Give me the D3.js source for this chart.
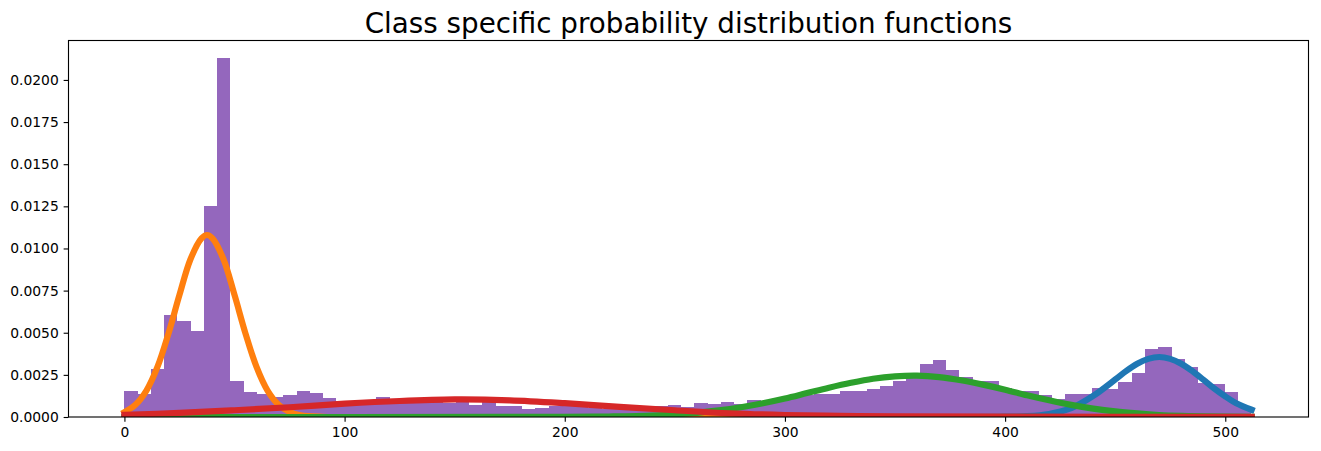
<!DOCTYPE html>
<html>
<head>
<meta charset="utf-8">
<script src="https://cdn.jsdelivr.net/npm/d3@7/dist/d3.min.js"></script>
<style>
html,body{margin:0;padding:0;background:#fff;}
svg{display:block;}
text{font-family:"DejaVu Sans",sans-serif;fill:#000;}
</style>
</head>
<body>
<svg id="chart" width="1321" height="451"></svg>
<script>
const chartTitle = "Class specific probability distribution functions";
const binWidth = 6.02;
const histValues = [
 0.00154,0.00136,0.00285,0.00605,0.0057,0.0051,0.0125,0.0213,0.00214,0.00148,
 0.00136,0.00119,0.0013,0.00154,0.00142,0.00113,0.00095,0.00095,0.001,0.00119,
 0.00107,0.00095,0.00095,0.00095,0.00081,0.00087,0.00073,0.00087,0.00067,0.00067,
 0.00049,0.00055,0.00067,0.00067,0.0006,0.00055,0.0005,0.0005,0.00052,0.00055,
 0.00067,0.00073,0.00061,0.00085,0.00079,0.00091,0.00079,0.00103,0.00095,0.00105,
 0.00115,0.0013,0.00138,0.00138,0.00156,0.00156,0.00168,0.00186,0.00216,0.00245,
 0.00316,0.0034,0.00281,0.00237,0.00214,0.00216,0.00174,0.00156,0.00156,0.00133,
 0.00109,0.00138,0.00138,0.00174,0.00168,0.0021,0.00263,0.00405,0.00417,0.00346,
 0.00298,0.00204,0.00198,0.0015,0.0006
];
const blueX = [0,380,400,410,420,430,440,450,455,460,465,470,475,480,485,490,495,500,505,512];
const blueY = [0,0,0.00002,0.00005,0.00018,0.00052,0.00125,0.00222,0.00273,0.00316,0.00345,0.00356,0.00345,0.00316,0.00273,0.00222,0.00169,0.00122,0.00082,0.00043];
const orangeX = [0,5,10,15,20,25,30,35,37.5,40,45,50,55,60,65,70,75,80,90,100,512];
const orangeY = [0.00029,0.00073,0.00157,0.00297,0.00495,0.00724,0.00936,0.0106,0.0108,0.0106,0.00936,0.00724,0.00495,0.00297,0.00157,0.00073,0.0003,0.0001,0.00001,0,0];
const greenX = [0,200,220,240,260,270,280,290,300,310,320,330,340,350,360,370,380,390,400,410,420,430,440,450,460,470,480,490,512];
const greenY = [0,0.00001,0.00003,0.00009,0.00025,0.00039,0.00058,0.00082,0.0011,0.00142,0.00174,0.00203,0.00227,0.00241,0.00245,0.00237,0.00218,0.00192,0.00162,0.00129,0.00099,0.00072,0.0005,0.00033,0.00021,0.00012,0.00007,0.00004,0.00001];
const redX = [0,25,50,75,100,125,150,175,200,225,250,275,300,325,350,400,512];
const redY = [0.00013,0.00024,0.0004,0.00058,0.00079,0.00095,0.00104,0.00099,0.00082,0.0006,0.0004,0.00022,0.00012,0.00007,0.00004,0.00002,0.00001];
const xTicks = [0,100,200,300,400,500];
const yTicks = [0,0.0025,0.005,0.0075,0.01,0.0125,0.015,0.0175,0.02];

const left=68.5,right=1308.5,top_=40.5,bottom=417;
const x=d3.scaleLinear().domain([-25.4,537.8]).range([left,right]);
const y=d3.scaleLinear().domain([0,0.02234]).range([bottom,top_]);
const svg=d3.select("#chart");

svg.append("defs").append("clipPath").attr("id","plot").append("rect")
  .attr("x",left).attr("y",top_).attr("width",right-left).attr("height",bottom-top_);

const plot=svg.append("g").attr("clip-path","url(#plot)");
plot.selectAll("rect.bar").data(histValues).join("rect").attr("class","bar")
  .attr("x",(d,i)=>x(i*binWidth))
  .attr("width",(d,i)=>x((i+1)*binWidth)-x(i*binWidth))
  .attr("y",d=>y(d))
  .attr("height",d=>y(0)-y(d))
  .attr("fill","#9467bd")
  .attr("shape-rendering","crispEdges");

const line=d3.line().x(d=>x(d[0])).y(d=>y(d[1])).curve(d3.curveCatmullRom.alpha(0.5));
const series=[[blueX,blueY,"#1f77b4"],[orangeX,orangeY,"#ff7f0e"],[greenX,greenY,"#2ca02c"],[redX,redY,"#d62728"]];
series.forEach(([xs,ys,c])=>{
  plot.append("path").datum(xs.map((v,i)=>[v,ys[i]]))
    .attr("d",line).attr("fill","none").attr("stroke",c)
    .attr("stroke-width",6.2).attr("stroke-linecap","square").attr("stroke-linejoin","round");
});

const xAxis=d3.axisBottom(x).tickValues(xTicks).tickFormat(d3.format("d")).tickSize(4.86).tickPadding(4.9);
const gx=svg.append("g").attr("transform",`translate(0,${bottom})`).call(xAxis);
const yAxis=d3.axisLeft(y).tickValues(yTicks).tickFormat(d3.format(".4f")).tickSize(4.86).tickPadding(4.9);
const gy=svg.append("g").attr("transform",`translate(${left},0)`).call(yAxis);
[gx,gy].forEach(g=>{
  g.select(".domain").remove();
  g.selectAll("line").attr("stroke","#000").attr("stroke-width",1.11);
  g.selectAll("text").attr("font-size",13.89).attr("font-family",'"DejaVu Sans",sans-serif').attr("fill","#000");
});

svg.append("rect").attr("x",left).attr("y",top_).attr("width",right-left).attr("height",bottom-top_)
  .attr("fill","none").attr("stroke","#000").attr("stroke-width",1.11);

svg.append("text").attr("x",(left+right)/2).attr("y",33).attr("text-anchor","middle")
  .attr("font-size",27.78).text(chartTitle);
</script>
</body>
</html>
